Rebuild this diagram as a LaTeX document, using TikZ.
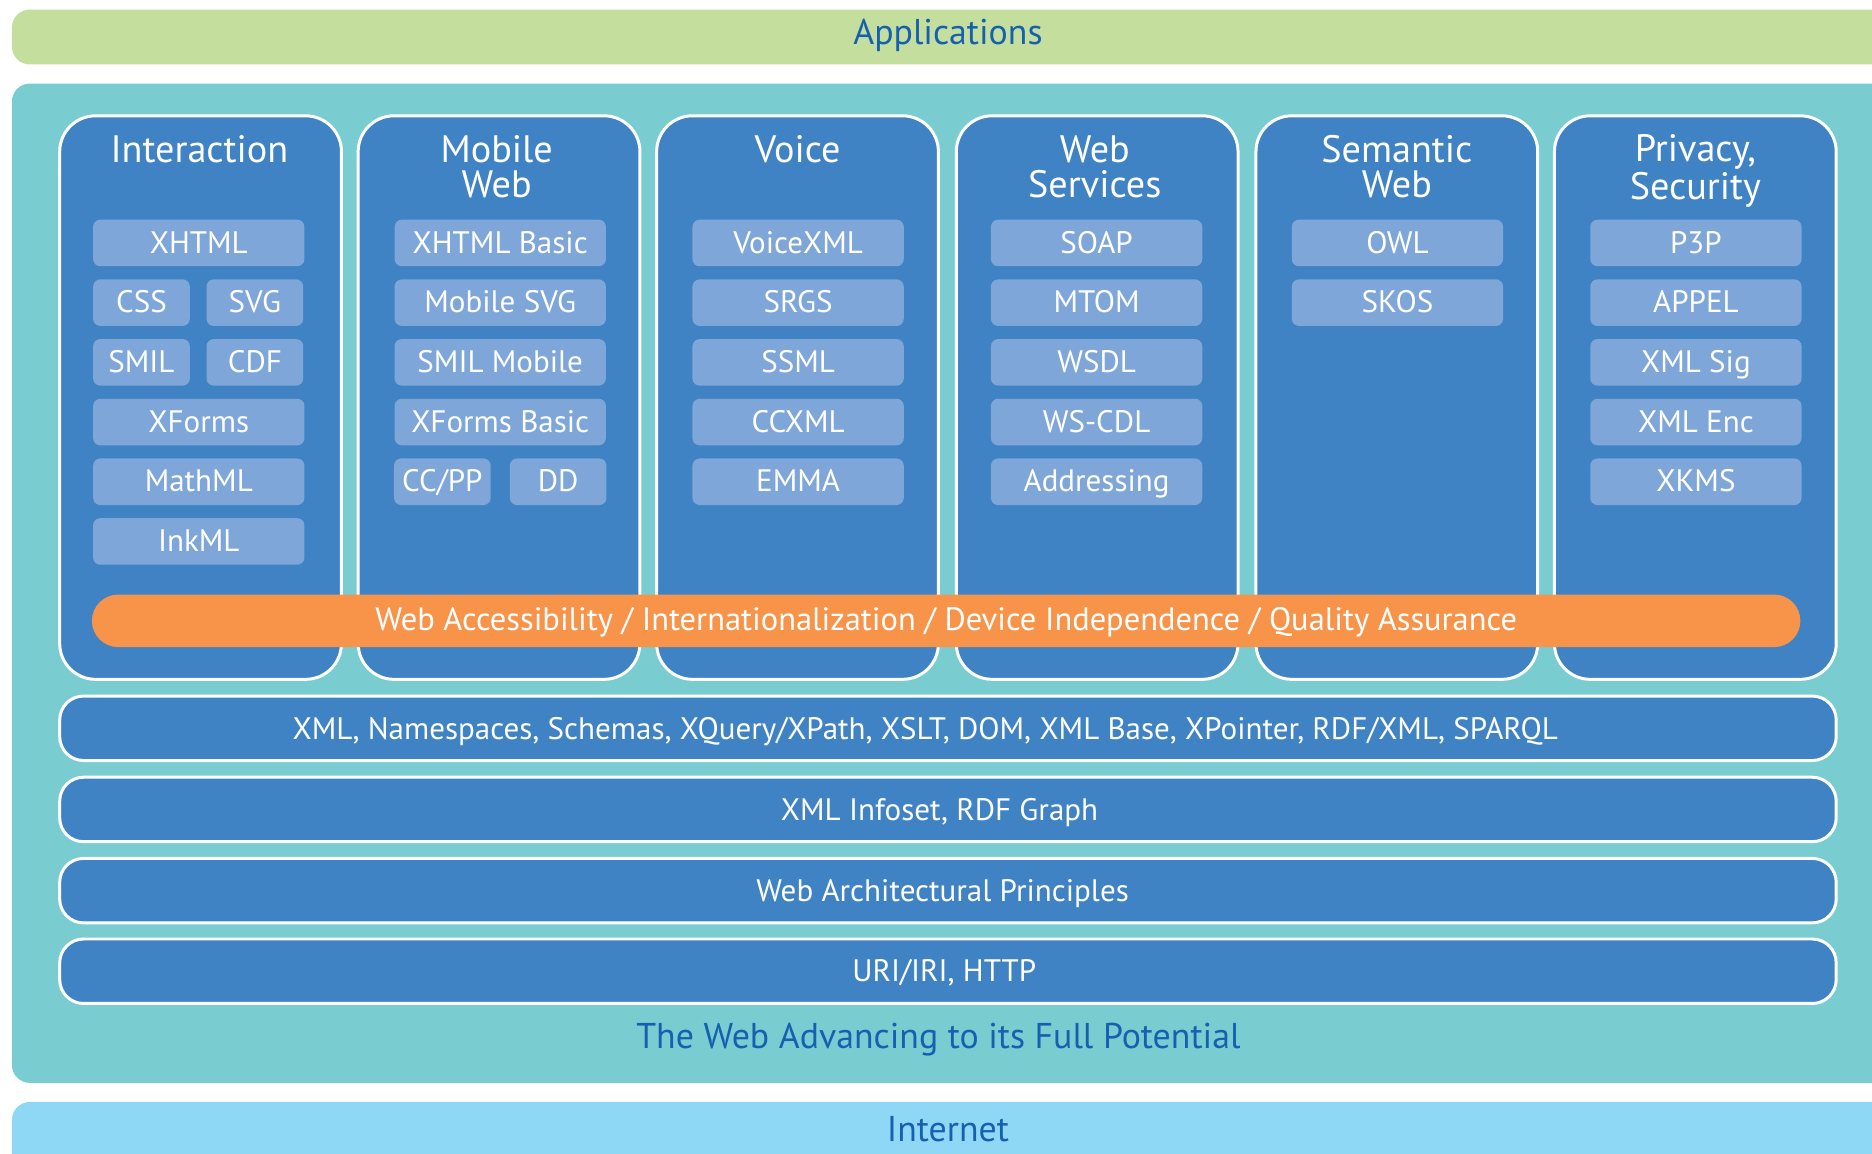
\documentclass[tikz,border=0pt]{standalone}
\usepackage{fontspec}
\setmainfont{PT Sans}
\definecolor{appgreen}{RGB}{196,223,157}
\definecolor{tealbg}{RGB}{121,205,208}
\definecolor{colblue}{RGB}{64,131,196}
\definecolor{itemblue}{RGB}{126,166,216}
\definecolor{orangebar}{RGB}{247,148,74}
\definecolor{netblue}{RGB}{143,216,245}
\definecolor{darktext}{RGB}{22,96,178}
\tikzset{
  capmid/.style={text height=0.85em, text depth=0pt},
  column/.style={draw=white, line width=1.25pt, fill=colblue, rounded corners=15pt,
    minimum width=118pt, minimum height=236pt, inner sep=0pt},
  head/.style={text=white, align=center, font=\fontsize{16}{14.5}\selectfont, inner sep=0pt, text depth=0pt},
  item/.style={fill=itemblue, rounded corners=3pt, minimum width=88.5pt, minimum height=19.5pt,
    inner sep=0pt, text=white, font=\fontsize{13}{13}\selectfont, capmid},
  halfitem/.style={item, minimum width=40.5pt},
  layer/.style={draw=white, line width=1.25pt, fill=colblue, rounded corners=10pt,
    minimum width=744pt, minimum height=27pt, inner sep=0pt},
  layertext/.style={text=white, font=\fontsize{13}{13}\selectfont, inner sep=0pt, capmid},
  bigtext/.style={text=darktext, font=\fontsize{15}{15}\selectfont, inner sep=0pt, capmid},
}
\begin{document}
\begin{tikzpicture}[x=0.5pt,y=-0.5pt]
\useasboundingbox (0,0) rectangle (1568,966);
\clip (0,0) rectangle (1568,966);
\fill[white] (0,0) rectangle (1568,966);
% outer bands
\fill[appgreen, rounded corners=7.5pt] (10,8) rectangle (1640,54);
\node[bigtext] (apps) at (794,29) {Applications};
\fill[tealbg, rounded corners=7.5pt] (10,70) rectangle (1640,907);
\fill[netblue, rounded corners=7.5pt] (10,923) rectangle (1640,1010);
\node[bigtext] (net) at (794,948) {Internet};
% columns
\node[column] (c1) at (168,333) {};
\node[column] (c2) at (418,333) {};
\node[column] (c3) at (668,333) {};
\node[column] (c4) at (919,333) {};
\node[column] (c5) at (1170,333) {};
\node[column] (c6) at (1420,333) {};
% headers
\node[head] (h1) at (167,125) {Interaction};
\node[head] (h2) at (416,139.5) {Mobile\\Web};
\node[head] (h3) at (668,125) {Voice};
\node[head] (h4) at (917,139.5) {Web\\Services};
\node[head] (h5) at (1170,139.5) {Semantic\\Web};
\node[head] (h6) at (1420,140) {Privacy,\\Security};
% Interaction items
\node[item] (xhtml) at (166.5,203.5) {XHTML};
\node[halfitem] (css) at (118.5,253.5) {CSS};
\node[halfitem] (svg) at (213.5,253.5) {SVG};
\node[halfitem] (smil) at (118.5,303.5) {SMIL};
\node[halfitem] (cdf) at (213.5,303.5) {CDF};
\node[item] (xforms) at (166.5,353.5) {XForms};
\node[item] (mathml) at (166.5,403.5) {MathML};
\node[item] (inkml) at (166.5,453.5) {InkML};
% Mobile Web items
\node[item] (xhtmlb) at (419,203.5) {XHTML Basic};
\node[item] (msvg) at (419,253.5) {Mobile SVG};
\node[item] (smilm) at (419,303.5) {SMIL Mobile};
\node[item] (xformsb) at (419,353.5) {XForms Basic};
\node[halfitem] (ccpp) at (370.5,403.5) {CC/PP};
\node[halfitem] (dd) at (467.5,403.5) {DD};
% Voice items
\node[item] (vxml) at (668.5,203.5) {VoiceXML};
\node[item] (srgs) at (668.5,253.5) {SRGS};
\node[item] (ssml) at (668.5,303.5) {SSML};
\node[item] (ccxml) at (668.5,353.5) {CCXML};
\node[item] (emma) at (668.5,403.5) {EMMA};
% Web Services items
\node[item] (soap) at (918.5,203.5) {SOAP};
\node[item] (mtom) at (918.5,253.5) {MTOM};
\node[item] (wsdl) at (918.5,303.5) {WSDL};
\node[item] (wscdl) at (918.5,353.5) {WS-CDL};
\node[item] (addr) at (918.5,403.5) {Addressing};
% Semantic Web items
\node[item] (owl) at (1170.5,203.5) {OWL};
\node[item] (skos) at (1170.5,253.5) {SKOS};
% Privacy items
\node[item] (p3p) at (1420.5,203.5) {P3P};
\node[item] (appel) at (1420.5,253.5) {APPEL};
\node[item] (xmlsig) at (1420.5,303.5) {XML Sig};
\node[item] (xmlenc) at (1420.5,353.5) {XML Enc};
\node[item] (xkms) at (1420.5,403.5) {XKMS};
% orange bar
\node[fill=orangebar, rounded corners=11pt, minimum width=715.5pt, minimum height=22pt,
  inner sep=0pt, text=white, font=\fontsize{13.6}{13.6}\selectfont, capmid] (wai) at (792.5,520)
  {Web Accessibility / Internationalization / Device Independence / Quality Assurance};
% layers
\node[layer] (l1) at (794,610) {};
\node[layertext] (t1) at (775,610.5) {XML, Namespaces, Schemas, XQuery/XPath, XSLT, DOM, XML Base, XPointer, RDF/XML, SPARQL};
\node[layer] (l2) at (794,678) {};
\node[layertext] (t2) at (787,678.5) {XML Infoset, RDF Graph};
\node[layer] (l3) at (794,746) {};
\node[layertext] (t3) at (789.5,746.5) {Web Architectural Principles};
\node[layer] (l4) at (794,813.5) {};
\node[layertext] (t4) at (791,813.5) {URI/IRI, HTTP};
\node[bigtext] (full) at (786,869.5) {The Web Advancing to its Full Potential};
\end{tikzpicture}
\end{document}
